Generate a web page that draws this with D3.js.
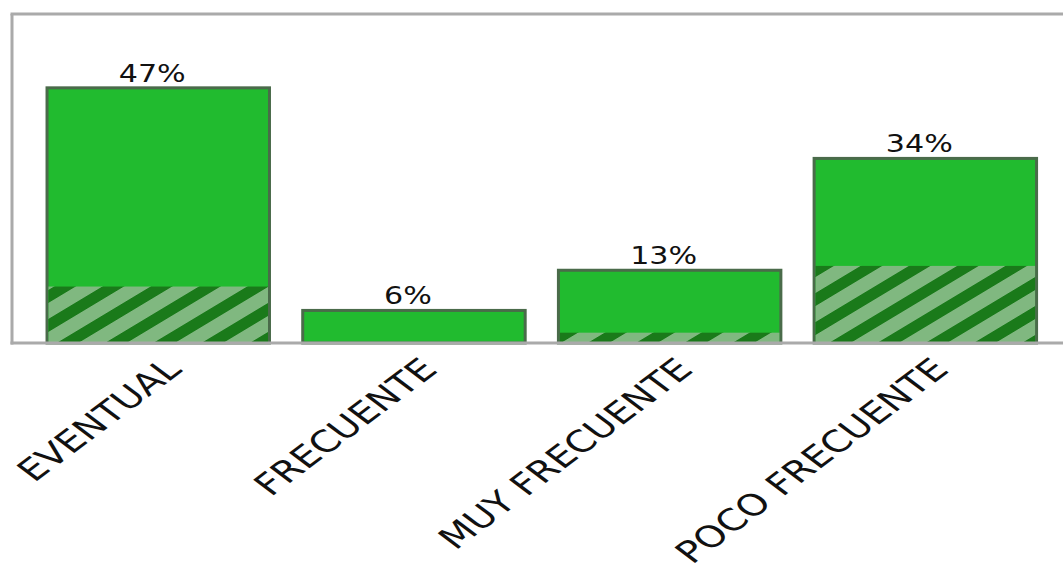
<!DOCTYPE html>
<html><head><meta charset="utf-8">
<script src="https://cdn.jsdelivr.net/npm/d3@7"></script>
<style>body{margin:0;background:#fff}svg{display:block}</style>
</head><body>
<svg id="c" width="1063" height="565"></svg>
<script>
const categories = ["EVENTUAL", "FRECUENTE", "MUY FRECUENTE", "POCO FRECUENTE"];
const totalValues = [47, 6, 13.4, 34];
const hatchedValues = [10.4, 0, 1.9, 14.2];
const yMax = 60.6;

(function () {
const svg = d3.select("#c");
const pLeft = 12, pTop = 14, pBottom = 343, pRight = 1071.6;

const x = d3.scaleBand().domain(categories).range([pLeft, pRight])
  .paddingInner(0.13).paddingOuter(0.137);
const y = d3.scaleLinear().domain([0, yMax]).range([pBottom, pTop]);

const defs = svg.append("defs");
const pat = defs.append("pattern").attr("id", "hatch")
  .attr("patternUnits", "userSpaceOnUse")
  .attr("width", 10).attr("height", 29)
  .attr("patternTransform", "skewY(-31)");
pat.append("rect").attr("width", 10).attr("height", 29).attr("fill", "#80b880");
pat.append("rect").attr("y", 0).attr("width", 10).attr("height", 13).attr("fill", "#1a7a1a");

const data = categories.map((c, i) => ({c, v: totalValues[i], h: hatchedValues[i]}));

// main bars
svg.append("g").selectAll("rect").data(data).join("rect")
  .attr("x", d => x(d.c)).attr("width", x.bandwidth())
  .attr("y", d => y(d.v)).attr("height", d => y(0) - y(d.v))
  .attr("fill", "#21bb2f").attr("stroke", "#4a6b4a").attr("stroke-width", 3);

// hatched portion
svg.append("g").selectAll("rect").data(data.filter(d => d.h > 0)).join("rect")
  .attr("x", d => x(d.c) + 1.5).attr("width", x.bandwidth() - 3)
  .attr("y", d => y(d.h)).attr("height", d => y(0) - y(d.h))
  .attr("fill", "url(#hatch)");

// spines
const sp = svg.append("g").attr("stroke", "#aaaaaa").attr("stroke-width", 3).attr("fill", "none");
sp.append("line").attr("x1", pLeft).attr("x2", pLeft).attr("y1", pTop).attr("y2", pBottom + 1.5);
sp.append("line").attr("x1", pLeft - 1.5).attr("x2", 1063).attr("y1", pTop).attr("y2", pTop);
sp.append("line").attr("x1", pLeft - 1.5).attr("x2", 1063).attr("y1", pBottom).attr("y2", pBottom);

// value labels
svg.append("g").selectAll("text").data(data).join("text")
  .attr("transform", d => `translate(${x(d.c) + x.bandwidth() / 2 - 6},${y(d.v) - 6}) scale(1.22,1)`)
  .attr("text-anchor", "middle")
  .attr("font-family", "DejaVu Sans").attr("font-size", 24.7).attr("fill", "#111")
  .text(d => Math.round(d.v) + "%");

// category labels
const xAxis = d3.axisBottom(x).tickSize(0).tickPadding(0);
const gx = svg.append("g").attr("transform", `translate(0,${pBottom})`).call(xAxis);
gx.select(".domain").remove();
gx.selectAll(".tick text")
  .attr("y", null).attr("dy", null)
  .attr("transform", "translate(25,28) scale(1.33,1) rotate(-45)")
  .attr("text-anchor", "end")
  .attr("font-family", "DejaVu Sans").attr("font-size", 30).attr("fill", "#111");
})();
</script>
</body></html>
